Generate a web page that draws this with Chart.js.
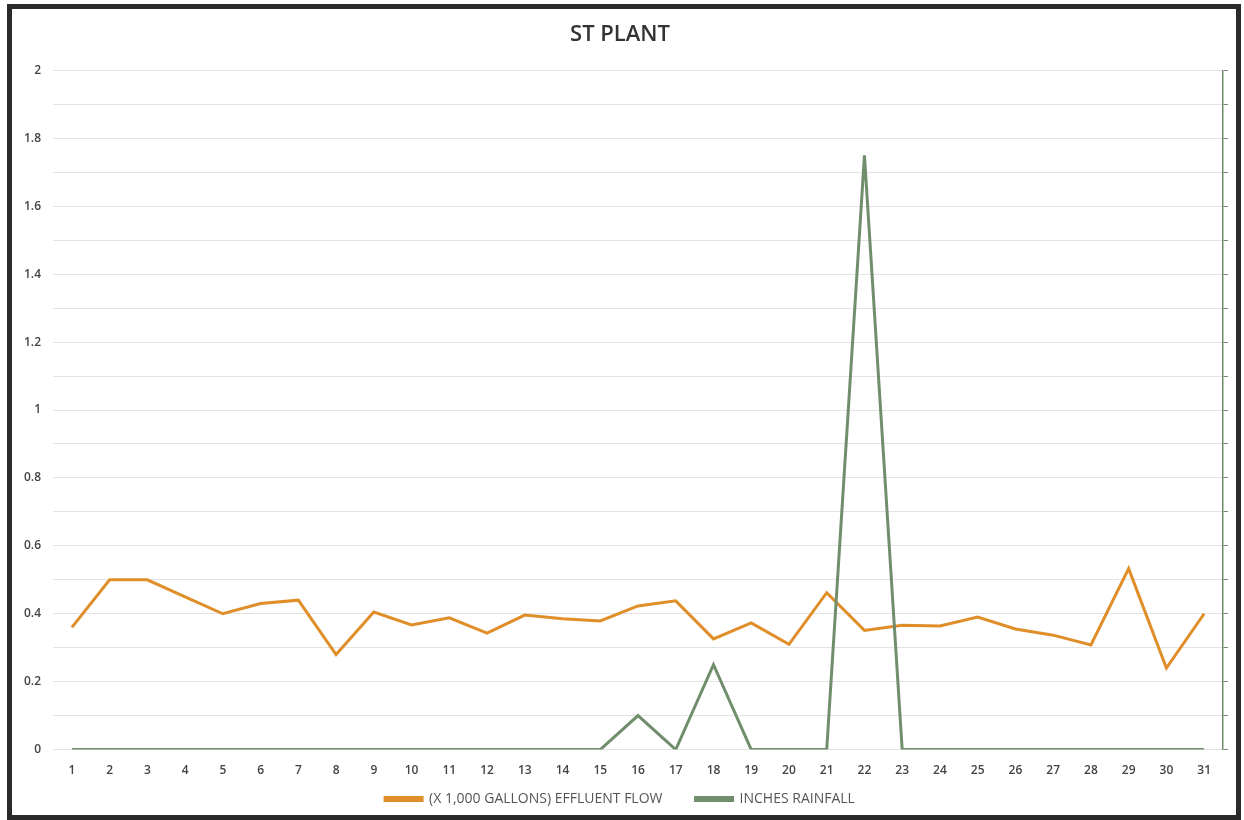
<!DOCTYPE html>
<html>
<head>
<meta charset="utf-8">
<script src="https://cdn.jsdelivr.net/npm/chart.js@4.4.0/dist/chart.umd.min.js"></script>
<style>
  html,body{margin:0;padding:0;background:#fff;}
  #wrap{position:relative;width:1244px;height:820px;overflow:hidden;background:#fff;}
  #frame{position:absolute;left:7px;top:4px;width:1224px;height:806px;border:5px solid #2b2b2b;pointer-events:none;}
  #box{position:absolute;left:12px;top:9px;width:1222px;height:807px;}
</style>
</head>
<body>
<div id="wrap">
  <div id="box"><canvas id="myChart"></canvas></div>
  <div id="frame"></div>
</div>
<script>
// dias del mes
const dias = ['1','2','3','4','5','6','7','8','9','10','11','12','13','14','15','16','17','18','19','20','21','22','23','24','25','26','27','28','29','30','31']
// (X 1,000 GALLONS) EFFLUENT FLOW
const flujo = [0.36,0.50,0.50,0.45,0.40,0.43,0.44,0.28,0.405,0.367,0.388,0.343,0.396,0.385,0.379,0.423,0.438,0.326,0.373,0.31,0.462,0.351,0.366,0.364,0.39,0.355,0.337,0.308,0.533,0.24,0.40]
// INCHES RAINFALL
const lluvia = [0,0,0,0,0,0,0,0,0,0,0,0,0,0,0,0.10,0,0.25,0,0,0,1.75,0,0,0,0,0,0,0,0,0]

const naranja = 'rgb(223,142,42)'
const verde   = 'rgb(112,142,108)'
const fuente  = 'Open Sans'

const ctx = document.getElementById('myChart')
const myChart = new Chart(ctx,{
    type:'line',
    data:{
        labels:dias,
        datasets:[
            {label:'(X 1,000 GALLONS) EFFLUENT FLOW',data:flujo,borderColor:naranja,backgroundColor:naranja,borderWidth:3,pointRadius:0,tension:0,yAxisID:'y',order:1},
            {label:'INCHES RAINFALL',data:lluvia,borderColor:verde,backgroundColor:verde,borderWidth:3,pointRadius:0,tension:0,yAxisID:'y2',order:0}
        ]
    },
    options:{
        responsive:true,
        maintainAspectRatio:false,
        animation:false,
        layout:{padding:{left:0,right:6,top:0,bottom:0}},
        plugins:{
            title:{display:true,text:'ST PLANT',color:'#333',font:{family:fuente,size:22,weight:'600'},padding:{top:13,bottom:22}},
            legend:{
                position:'bottom',
                labels:{
                    color:'#555',font:{family:fuente,size:14},boxWidth:37,boxHeight:3,padding:4,
                    sort:(a,b)=>a.datasetIndex-b.datasetIndex,
                    generateLabels:function(chart){
                        const items=Chart.defaults.plugins.legend.labels.generateLabels(chart)
                        items.forEach(it=>{ if(it.datasetIndex===0){ it.text=it.text+'        ' } })
                        return items
                    }
                }
            },
            tooltip:{enabled:false}
        },
        scales:{
            x:{
                offset:true,
                grid:{display:false},
                border:{display:false},
                ticks:{color:'#444',font:{family:fuente,size:12,weight:'600'},padding:6,maxRotation:0,autoSkip:false},
                afterFit:function(scale){ scale.height += 4 }
            },
            y:{
                min:0,max:2,
                grid:{color:'#e3e3e3',drawTicks:false},
                border:{display:false},
                ticks:{
                    stepSize:0.1,color:'#444',font:{family:fuente,size:12,weight:'600'},padding:12,
                    callback:function(v){const d=Math.round(v*10); return d%2===0 ? String(d/10) : ''}
                }
            },
            y2:{
                position:'right',
                min:0,max:2,
                grid:{drawOnChartArea:false,color:verde,tickLength:5,lineWidth:1},
                border:{display:true,color:verde,width:1.5},
                ticks:{display:false,stepSize:0.1}
            }
        }
    }
})
</script>
</body>
</html>
